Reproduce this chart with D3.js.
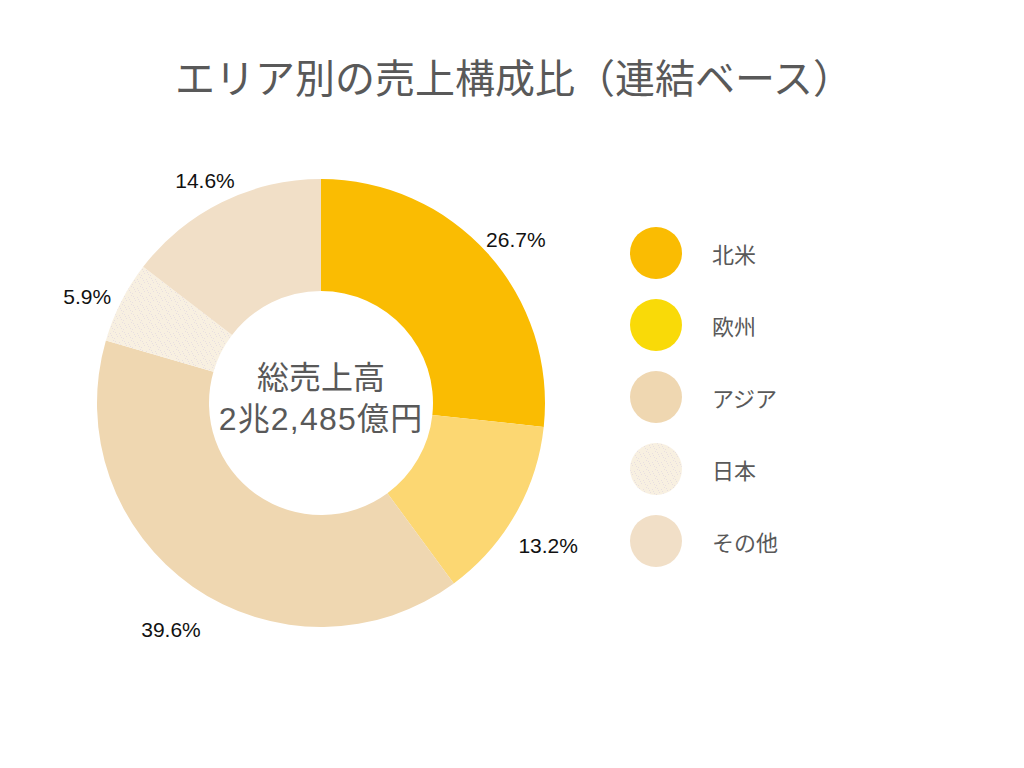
<!DOCTYPE html>
<html>
<head>
<meta charset="utf-8">
<script src="https://cdn.jsdelivr.net/npm/d3@7/dist/d3.min.js"></script>
<style>
  html, body { margin: 0; padding: 0; background: #ffffff; }
  svg { display: block; }
</style>
</head>
<body>
<svg id="chart" width="1024" height="768"></svg>
<script>
// ---- data ----
const categories = ["北米", "欧州", "アジア", "日本", "その他"];
const shares = [26.7, 13.2, 39.6, 5.9, 14.6];
const sliceColors = ["#fabc02", "#fcd772", "#efd7b1", "#f8f0e1", "#f1dfc7"];
const legendColors = ["#fabc02", "#f9da08", "#efd7b1", "#f8f0e1", "#f1dfc7"];
const titleText = "エリア別の売上構成比（連結ベース）";
const centerLines = ["総売上高", "2兆2,485億円"];

const svg = d3.select("#chart");
const cjk = "'Noto Sans CJK JP', 'Noto Sans', sans-serif";
const mixed = "'Liberation Sans', 'Noto Sans CJK JP', sans-serif";
const textGray = "#595959";

// speckle pattern for 日本
const defs = svg.append("defs");
const pat = defs.append("pattern")
  .attr("id", "speckle").attr("patternUnits", "userSpaceOnUse")
  .attr("width", 9).attr("height", 9);
pat.append("rect").attr("width", 9).attr("height", 9).attr("fill", "#f8f0e1");
const dots = [[1,1],[5,2],[3,5],[7,6],[0,7],[6,4],[2,3],[8,0]];
pat.selectAll("rect.d").data(dots).enter().append("rect")
  .attr("class", "d").attr("x", d => d[0]).attr("y", d => d[1])
  .attr("width", 1).attr("height", 1).attr("fill", "#e8dfe0");

// title
svg.append("text")
  .attr("x", 514).attr("y", 76)
  .attr("text-anchor", "middle").attr("dominant-baseline", "central")
  .attr("font-family", cjk).attr("font-size", 40).attr("fill", textGray)
  .text(titleText);

// donut
const cx = 321, cy = 403, R = 224, r = 112;
const g = svg.append("g").attr("transform", `translate(${cx},${cy})`);
const pie = d3.pie().sort(null).value(d => d);
const arcs = pie(shares);
const arc = d3.arc().innerRadius(r).outerRadius(R);
const fillFor = (i, colors) => categories[i] === "日本" ? "url(#speckle)" : colors[i];

g.selectAll("path.slice").data(arcs).enter().append("path")
  .attr("class", "slice")
  .attr("d", arc)
  .attr("fill", (d, i) => fillFor(i, sliceColors));

// percent labels
const labelArc = d3.arc().innerRadius(262).outerRadius(262);
g.selectAll("text.pct").data(arcs).enter().append("text")
  .attr("class", "pct")
  .attr("x", d => labelArc.centroid(d)[0])
  .attr("y", d => labelArc.centroid(d)[1] + 12)
  .attr("text-anchor", "middle").attr("dominant-baseline", "central")
  .attr("font-family", "'Liberation Sans', Arial, sans-serif")
  .attr("font-size", 21).attr("fill", "#111111")
  .text(d => d.data.toFixed(1) + "%");

// center text
g.selectAll("text.center").data(centerLines).enter().append("text")
  .attr("class", "center")
  .attr("x", 0).attr("y", (d, i) => -25 + i * 41)
  .attr("text-anchor", "middle").attr("dominant-baseline", "central")
  .attr("font-family", mixed).attr("font-size", 32).attr("fill", textGray)
  .attr("letter-spacing", (d, i) => i === 1 ? 1.2 : 0)
  .text(d => d);

// legend
const ly = d3.scalePoint().domain(categories).range([253, 541]);
const leg = svg.append("g");
const items = leg.selectAll("g.item").data(categories).enter().append("g")
  .attr("class", "item")
  .attr("transform", d => `translate(656,${ly(d)})`);
items.append("circle").attr("r", 26)
  .attr("fill", (d, i) => fillFor(i, legendColors));
items.append("text")
  .attr("x", 56).attr("y", 0)
  .attr("dominant-baseline", "central")
  .attr("font-family", cjk).attr("font-size", 22).attr("fill", textGray)
  .text(d => d);
</script>
</body>
</html>
